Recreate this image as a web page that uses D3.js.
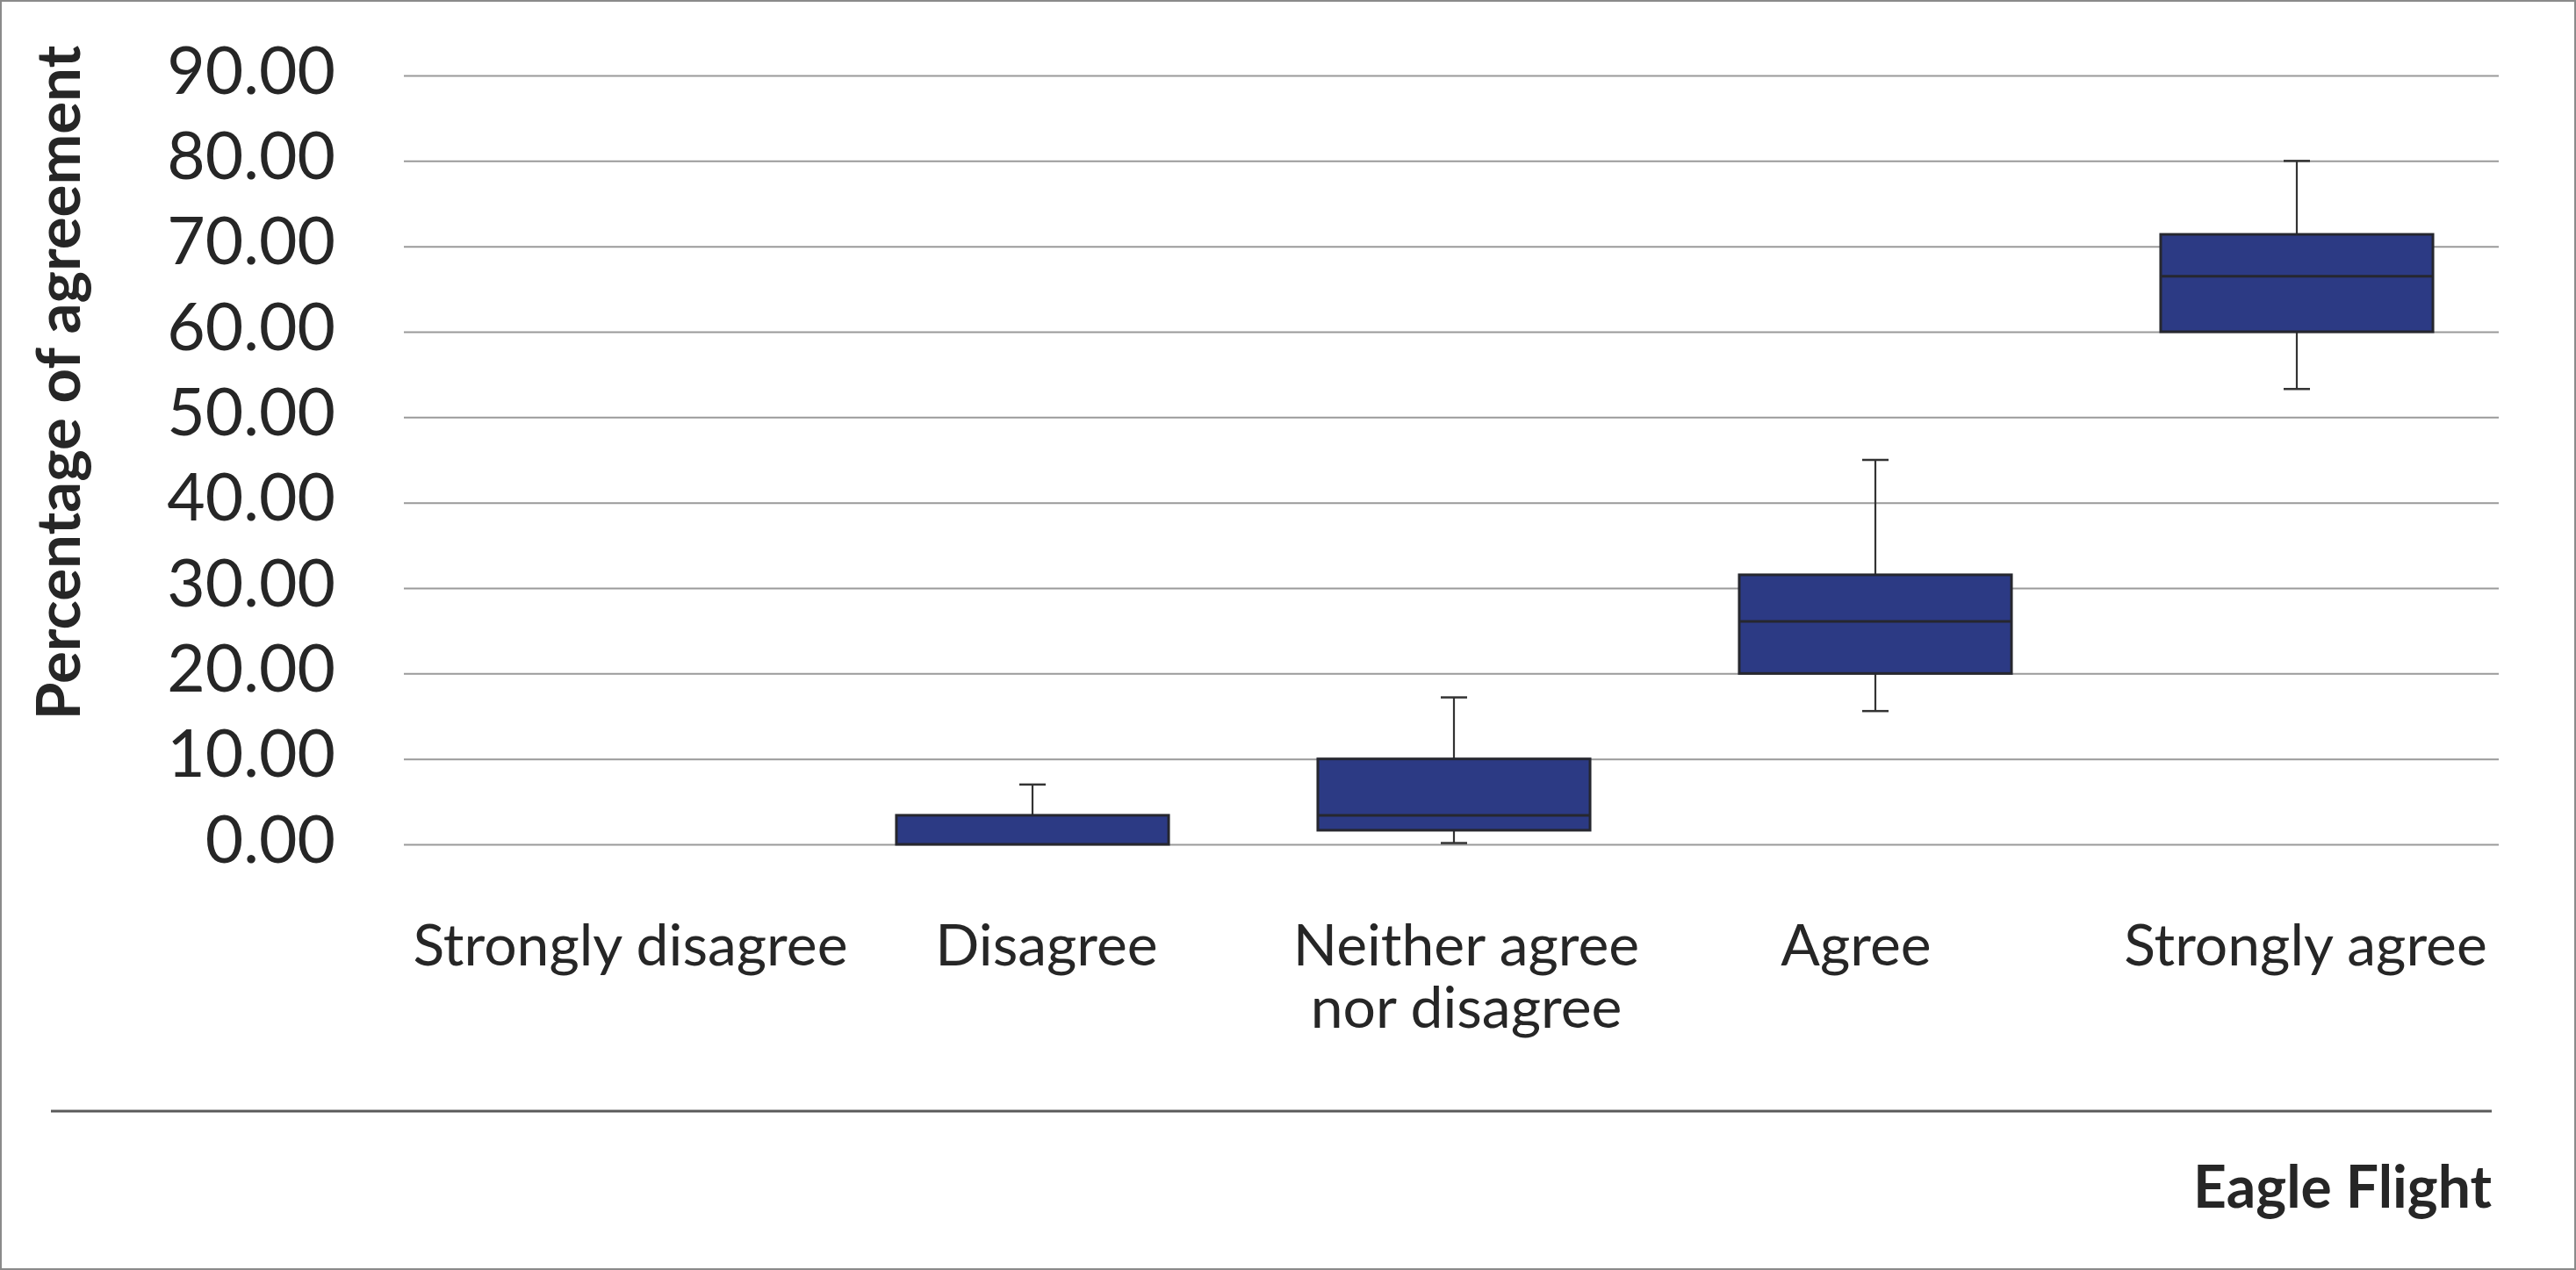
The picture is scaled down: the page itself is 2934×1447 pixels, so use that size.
<!DOCTYPE html>
<html>
<head>
<meta charset="utf-8">
<script src="https://cdn.jsdelivr.net/npm/d3@7"></script>
<style>
  html, body { margin: 0; padding: 0; background: #fff; }
  svg { display: block; }
</style>
</head>
<body>
<svg id="chart" width="2934" height="1447"></svg>
<script>
// ---- data ----
const categories   = ["Strongly disagree", "Disagree", "Neither agree nor disagree", "Agree", "Strongly agree"];
const labelLines   = [["Strongly disagree"], ["Disagree"], ["Neither agree", "nor disagree"], ["Agree"], ["Strongly agree"]];
const whiskerLow   = [0, 0, 0.15, 15.6, 53.3];
const q1           = [0, 0, 1.65, 20.0, 60.0];
const median       = [0, 0, 3.4, 26.1, 66.5];
const q3           = [0, 3.4, 10.0, 31.55, 71.4];
const whiskerHigh  = [0, 7.0, 17.2, 45.0, 80.0];
const yTicks       = [0, 10, 20, 30, 40, 50, 60, 70, 80, 90];
const yTitle       = "Percentage of agreement";
const footerTitle  = "Eagle Flight";

// ---- layout ----
const W = 2934, H = 1447;
const FONT = "Lato, 'Open Sans', sans-serif";
const TEXT = "#262626";
const labelNudge = [22, 16, 14, -22, 10];   // small horizontal label shifts seen in the reference

const svg = d3.select("#chart");

// outer frame
svg.append("rect").attr("x", 1).attr("y", 1).attr("width", W - 2).attr("height", H - 2)
  .attr("fill", "#fff").attr("stroke", "#8a8a8a").attr("stroke-width", 2);

const x = d3.scaleBand().domain(categories).range([456, 2856]).padding(0);
const y = d3.scaleLinear().domain([0, 90]).range([962, 86]);
const gridLeft = 460, gridRight = 2846;

// y axis with gridlines
const yAxis = d3.axisLeft(y).tickValues(yTicks).tickFormat(d3.format(".2f"))
  .tickSizeInner(-(gridRight - gridLeft)).tickSizeOuter(0).tickPadding(78);
const gy = svg.append("g").attr("transform", `translate(${gridLeft},0)`).call(yAxis);
gy.select(".domain").remove();
gy.selectAll(".tick line").attr("stroke", "#9a9a9a").attr("stroke-width", 2);
gy.selectAll(".tick text").attr("fill", TEXT).attr("font-family", FONT)
  .attr("font-size", 75).attr("dy", "0.32em").attr("y", -4);

// y title
svg.append("text")
  .attr("transform", `translate(91, 436) rotate(-90)`)
  .attr("text-anchor", "middle")
  .attr("font-family", FONT).attr("font-weight", 700).attr("font-size", 69)
  .attr("fill", TEXT).text(yTitle);

// boxes
const rows = categories.map((c, i) => ({c, lo: whiskerLow[i], q1: q1[i], med: median[i], q3: q3[i], hi: whiskerHigh[i]}));
const bw = x.bandwidth() * 0.646;
const capW = 30;
const g = svg.append("g");
rows.forEach(d => {
  const cx = x(d.c) + x.bandwidth() / 2;
  if (d.hi > d.q3) {
    g.append("line").attr("x1", cx).attr("x2", cx).attr("y1", y(d.q3)).attr("y2", y(d.hi))
      .attr("stroke", "#333").attr("stroke-width", 2.2);
    g.append("line").attr("x1", cx - capW / 2).attr("x2", cx + capW / 2).attr("y1", y(d.hi)).attr("y2", y(d.hi))
      .attr("stroke", "#333").attr("stroke-width", 2.5);
  }
  if (d.q1 > d.lo) {
    g.append("line").attr("x1", cx).attr("x2", cx).attr("y1", y(d.q1)).attr("y2", y(d.lo))
      .attr("stroke", "#333").attr("stroke-width", 2.2);
    g.append("line").attr("x1", cx - capW / 2).attr("x2", cx + capW / 2).attr("y1", y(d.lo)).attr("y2", y(d.lo))
      .attr("stroke", "#333").attr("stroke-width", 2.5);
  }
  if (d.q3 > d.q1) {
    g.append("rect").attr("x", cx - bw / 2).attr("width", bw)
      .attr("y", y(d.q3)).attr("height", y(d.q1) - y(d.q3))
      .attr("fill", "#2c3a84").attr("stroke", "#26272f").attr("stroke-width", 3);
    if (d.med > d.q1) {
      g.append("line").attr("x1", cx - bw / 2).attr("x2", cx + bw / 2).attr("y1", y(d.med)).attr("y2", y(d.med))
        .attr("stroke", "#26272f").attr("stroke-width", 3);
    }
  }
});

// x labels
categories.forEach((c, i) => {
  const cx = x(c) + x.bandwidth() / 2 + labelNudge[i];
  const t = svg.append("text").attr("text-anchor", "middle").attr("font-family", FONT)
    .attr("font-size", 66).attr("fill", TEXT);
  labelLines[i].forEach((ln, j) => {
    t.append("tspan").attr("x", cx).attr("y", 1100 + j * 71).text(ln);
  });
});

// separator line
svg.append("line").attr("x1", 58).attr("x2", 2838).attr("y1", 1266).attr("y2", 1266)
  .attr("stroke", "#5a5a5a").attr("stroke-width", 3);

// footer title
svg.append("text").attr("x", 2838).attr("y", 1376).attr("text-anchor", "end")
  .attr("font-family", FONT).attr("font-weight", 700).attr("font-size", 66)
  .attr("fill", TEXT).text(footerTitle);
</script>
</body>
</html>
